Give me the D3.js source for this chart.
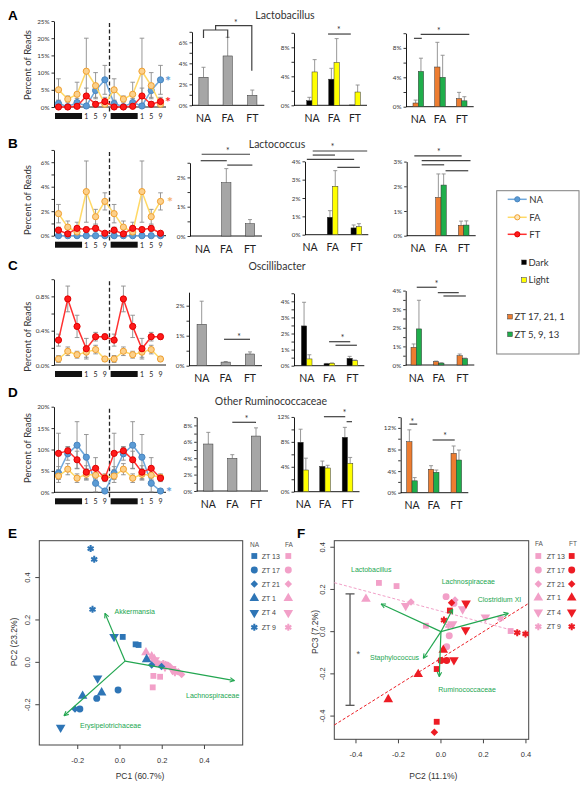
<!DOCTYPE html>
<html><head><meta charset="utf-8">
<script src="https://cdn.jsdelivr.net/npm/d3@7"></script>
<style>body{margin:0;background:#fff}svg{display:block}</style>
</head><body><script>
// ================= DATA =================
const groups = ["NA","FA","FT"];
const timeLabels = ["","","","1","5","9"];   // ZT labels under the 6 timepoints (dark phase = first 3)

// ---- line charts: % of reads at 6 timepoints (double-plotted) ----
const lactobLineNA = [1.0,0.1,1.3,0.3,4.8,7.9],   lactobLineNAErr = [1.0,0.4,1.2,0.6,2.0,4.2];
const lactobLineFA = [5.0,2.3,3.7,10.4,6.2,0.8],  lactobLineFAErr = [3.2,0.9,3.5,9.6,3.8,1.0];
const lactobLineFT = [0.0,0.0,0.2,3.2,0.8,1.6],   lactobLineFTErr = [0.2,0.2,0.4,2.3,0.8,1.2];

const lactocLineNA = [0,0,0,0,0,0],               lactocLineNAErr = [0,0,0,0,0,0];
const lactocLineFA = [1.8,0.7,0.3,3.6,1.55,2.8],  lactocLineFAErr = [0.75,0.5,0.8,2.5,0.6,0.7];
const lactocLineFT = [0.45,0.15,0.6,0.5,0.6,0.2], lactocLineFTErr = [0.25,0.15,0.2,0.2,0.25,0.15];

const oscLineFA = [0.07,0.16,0.12,0.15,0.18,0.07], oscLineFAErr = [0.04,0.05,0.04,0.06,0.05,0.03];
const oscLineFT = [0.29,0.77,0.45,0.19,0.33,0.33], oscLineFTErr = [0.07,0.15,0.13,0.12,0.05,0.03];

const rumLineNA = [4.5,9.0,11.0,8.2,2.1,0.3],  rumLineNAErr = [1.5,1.5,5.5,5.3,2.0,0.5];
const rumLineFA = [3.8,5.4,3.3,4.2,4.0,3.5],   rumLineFAErr = [1.5,1.3,1.0,1.3,1.2,0.8];
const rumLineFT = [9.1,9.7,7.6,4.7,5.6,3.3],   rumLineFTErr = [4.7,1.0,2.0,1.5,2.5,0.8];

// ---- bar charts (NA, FA, FT) ----
const lactobTotal = [2.67,4.7,0.95], lactobTotalErr = [0.95,1.78,0.5];
const lactobDark  = [0.63,3.6,0.05], lactobDarkErr  = [0.47,1.5,0];
const lactobLight = [4.6,5.9,1.83],  lactobLightErr = [1.7,3.3,0.97];
const lactobZTa   = [0.5,5.4,1.1],   lactobZTaErr   = [0.4,3.36,0.85];
const lactobZTb   = [4.8,4.0,0.8],   lactobZTbErr   = [1.8,3.0,0.56];

const lactocTotal = [0,1.82,0.42],   lactocTotalErr = [0,0.48,0.14];
const lactocDark  = [0,0.95,0.37],   lactocDarkErr  = [0,0.36,0.16];
const lactocLight = [0,2.64,0.44],   lactocLightErr = [0,0.85,0.16];
const lactocZTa   = [0,1.55,0.42],   lactocZTaErr   = [0,0.95,0.17];
const lactocZTb   = [0,2.05,0.43],   lactocZTbErr   = [0,0.45,0.17];

const oscTotal = [1.38,0.12,0.39], oscTotalErr = [0.77,0.02,0.07];
const oscDark  = [2.47,0.12,0.46], oscDarkErr  = [1.47,0.02,0.12];
const oscLight = [0.42,0.15,0.31], oscLightErr = [0.26,0.02,0.04];
const oscZTa   = [0.95,0.18,0.5],  oscZTaErr   = [0.18,0.03,0.09];
const oscZTb   = [1.94,0.1,0.34],  oscZTbErr   = [1.54,0.02,0.03];

const rumTotal = [5.73,3.98,6.7], rumTotalErr = [1.42,0.45,1.0];
const rumDark  = [7.93,4.07,8.73], rumDarkErr = [2.1,0.85,1.6];
const rumLight = [3.48,3.8,4.55],  rumLightErr = [1.9,0.44,0.95];
const rumZTa   = [9.44,4.33,7.3],  rumZTaErr   = [2.2,0.67,1.35];
const rumZTb   = [2.2,3.78,6.05],  rumZTbErr   = [0.6,0.42,1.85];

// ---- significance brackets: polylines of [category index, value %] ----
const sigLactobTotal = [[[0,6.4],[0,7.17],[1,7.17],[1,6.4]],[[0.5,7.17],[0.5,7.58],[1.98,7.58],[1.98,3.3]]];
const starLactobTotal = [[1.33,7.96]];
const sigLactobDL = [[[0.73,9.83],[1.8,9.83]]], starLactobDL = [[1.23,10.5]];
const sigLactobZT = [[[-0.2,9.3],[0.16,9.3]],[[0.11,9.85],[2.35,9.85]]], starLactobZT = [[0.94,10.4]];

const sigLactocTotal = [[[-0.04,2.79],[2.0,2.79]],[[-0.08,2.57],[1.02,2.57]],[[1.04,2.42],[2.1,2.42]]], starLactocTotal = [[1.06,2.94]];
const sigLactocDL = [[[0.12,4.56],[2.46,4.56]],[[0.12,4.34],[1.1,4.34]],[[-0.14,4.11],[1.91,4.11]],[[1.2,3.67],[2.15,3.67]]], starLactocDL = [[1.0,4.8]];
const sigLactocZT = [[[-0.16,3.23],[1.91,3.23]],[[0.16,3.04],[2.3,3.04]],[[0.16,2.87],[1.14,2.87]],[[1.2,2.63],[2.2,2.63]]], starLactocZT = [[0.9,3.43]];

const sigOscTotal = [[[0.93,0.88],[2.0,0.88]]], starOscTotal = [[1.55,1.0]];
const sigOscDL = [[[0.99,1.49],[1.91,1.49]],[[1.27,1.27],[2.2,1.27]]], starOscDL = [[1.58,1.76]];
const sigOscZT = [[[0.02,4.18],[0.91,4.18]],[[0.96,3.89],[1.85,3.89]],[[1.2,3.71],[2.15,3.71]]], starOscZT = [[0.91,4.39]];

const sigRumTotal = [[[1,8.38],[2,8.38]]], starRumTotal = [[1.6,8.87]];
const sigRumDL = [[[0.95,12.04],[1.9,12.04]],[[1.96,11.24],[2.2,11.24]]], starRumDL = [[1.87,12.7]];
const sigRumZT = [[[-0.12,12.7],[0.24,12.7]],[[0.95,9.76],[1.93,9.76]]], starRumZT = [[0.01,13.3],[1.5,10.7]];

// ---- PCA (E): PC1 / PC2 ----
const eNAzt  = ["ZT 9","ZT 9","ZT 9","ZT 13","ZT 13","ZT 13","ZT 4","ZT 4","ZT 4","ZT 1","ZT 1","ZT 1","ZT 17","ZT 17","ZT 17","ZT 21","ZT 21","ZT 21"];
const eNApc1 = [-0.139,-0.122,-0.130,0.013,0.074,0.088,-0.028,-0.106,-0.281,0.126,-0.087,-0.177,-0.009,-0.11,-0.19,-0.213,0.15,0.197];
const eNApc2 = [0.537,0.486,0.25,0.12,0.085,0.082,0.121,-0.075,-0.307,0.014,-0.143,-0.159,-0.13,-0.17,-0.22,-0.22,-0.013,-0.02];
const eFAzt  = ["ZT 1","ZT 1","ZT 1","ZT 13","ZT 13","ZT 13","ZT 17","ZT 17","ZT 17","ZT 21","ZT 21","ZT 21","ZT 9","ZT 9","ZT 9","ZT 4","ZT 4","ZT 4"];
const eFApc1 = [0.123,0.15,0.162,0.158,0.19,0.155,0.174,0.221,0.253,0.237,0.276,0.292,0.186,0.205,0.26,0.166,0.213,0.245];
const eFApc2 = [0.046,0.027,0.015,-0.064,-0.068,-0.118,-0.005,-0.013,-0.036,-0.02,-0.044,-0.057,-0.008,-0.005,-0.049,0.011,-0.02,-0.03];
const eLoadNames = ["Akkermansia","Lachnospiraceae","Erysipelotrichaceae"];
const eLoadPC1 = [-0.071,0.542,-0.265], eLoadPC2 = [0.231,-0.086,-0.252];
const eOrigin = [0.024,0.006];

// ---- PCA (F): PC2 / PC3 ----
const fFAzt  = ["ZT 13","ZT 13","ZT 13","ZT 13","ZT 1","ZT 4","ZT 4","ZT 4","ZT 4","ZT 21","ZT 21","ZT 17","ZT 17","ZT 17","ZT 17","ZT 9","ZT 9"];
const fFApc2 = [-0.292,-0.209,-0.071,0.328,-0.353,-0.166,0.055,0.102,0.209,-0.141,0.066,0.024,0.061,0.039,0.027,0.281,0.035];
const fFApc3 = [0.231,0.216,0.028,0.003,0.155,0.123,0.036,0.107,0.068,0.141,0.15,0.166,0.134,-0.019,-0.071,0.063,0.028];
const fFTzt  = ["ZT 13","ZT 13","ZT 13","ZT 21","ZT 21","ZT 4","ZT 4","ZT 4","ZT 1","ZT 1","ZT 1","ZT 17","ZT 17","ZT 9","ZT 9","ZT 9"];
const fFTpc2 = [0.042,-0.02,-0.02,0.05,-0.031,0.118,0.116,0.061,-0.107,-0.248,0.011,0.027,0.0,0.014,0.359,0.398];
const fFTpc3 = [0.1,-0.177,-0.427,0.137,-0.477,0.134,0.008,-0.134,-0.202,-0.321,-0.087,-0.137,-0.137,0.055,-0.005,-0.011];
const fLoadNames = ["Lactobacillus","Staphylococcus","Ruminococcaceae","Lachnospiraceae","Clostridium XI"];
const fLoadPC2 = [-0.282,-0.083,-0.008,0.055,0.317], fLoadPC3 = [0.131,-0.126,-0.213,0.106,0.087];
const fFitFA = {slope:-0.269, intercept:0.097, from:-0.502, to:0.39};
const fFitFT = {slope:0.63, intercept:-0.126, from:-0.502, to:0.413};
const fErrBar = {pc2:-0.428, lo:-0.349, hi:0.179};
const ztOrder = ["ZT 13","ZT 17","ZT 21","ZT 1","ZT 4","ZT 9"];

// ================= DRAWING =================
const W = 588, H = 791;
const svg = d3.select("body").append("svg").attr("width",W).attr("height",H)
  .style("font-family","Lato, 'Open Sans', sans-serif");

const cNA="#5b9bd5", cNAline="#6fa8dc", cFAline="#ffd966", cFAfill="#fcd08a", cFAstroke="#f0a030",
      cFT="#ff1a1a", cGrey="#a6a6a6", cOrange="#ed7d31", cGreen="#1fae4b", cYellow="#ffff00",
      cErr="#8c8c8c", cBlueE="#2e75b6", cPink="#f2a0c8", cRedF="#ed1c24", cArrow="#22a650";

function styleAxis(a){
  a.selectAll("path.domain").attr("stroke","#000").attr("stroke-width",0.9);
  a.selectAll(".tick line").attr("stroke","#000").attr("stroke-width",0.8);
  a.selectAll(".tick text").attr("font-size",6.3).attr("fill","#333").attr("font-family","Lato, sans-serif");
}
const has = (arr,d)=>arr.some(l=>Math.abs(l-d)<1e-9);

function drawLineChart(cfg){
  const x = d3.scaleLinear().domain([0,11]).range([58.5,160.5]);
  const y = d3.scaleLinear().domain([0,cfg.max]).range([cfg.y0, cfg.y0-cfg.max*cfg.px]);
  const g = svg.append("g");
  const ax = g.append("g").attr("transform","translate(54,0)")
    .call(d3.axisLeft(y).tickValues(cfg.ticks).tickSize(2.5).tickSizeOuter(0).tickPadding(2)
      .tickFormat(d=>has(cfg.labels,d)?cfg.fmt(d):""));
  styleAxis(ax);
  g.append("line").attr("x1",54).attr("x2",166).attr("y1",cfg.y0).attr("y2",cfg.y0).attr("stroke","#000").attr("stroke-width",0.9);
  const xm=(x(5)+x(6))/2;
  g.append("line").attr("x1",xm).attr("x2",xm).attr("y1",y(cfg.max)+2).attr("y2",cfg.y0+6)
    .attr("stroke","#222").attr("stroke-width",1.3).attr("stroke-dasharray","4,2.5");
  [0,6].forEach(s=>{
    g.append("rect").attr("x",x(s)-3.5).attr("y",cfg.y0+6).attr("width",x(s+2)-x(s)+8.5).attr("height",6).attr("fill","#111");
    timeLabels.forEach((t,i)=>{ if(t) g.append("text").attr("x",x(s+i)).attr("y",cfg.y0+11.8)
      .attr("text-anchor","middle").attr("font-size",7).attr("fill","#222").text(t); });
  });
  g.append("text").attr("transform",`translate(31,${cfg.labelY}) rotate(-90)`).attr("text-anchor","middle")
    .attr("font-size",9.5).attr("fill","#333").text("Percent of Reads");
  const idx = d3.range(12);
  cfg.series.forEach(s=>{
    idx.forEach(i=>{
      const v=s.vals[i%6], e=s.errs[i%6]; if(e<=0) return;
      const lo=Math.max(0,v-e), hi=v+e;
      g.append("line").attr("x1",x(i)).attr("x2",x(i)).attr("y1",y(lo)).attr("y2",y(hi)).attr("stroke",cErr).attr("stroke-width",0.9);
      [lo,hi].forEach(b=>{ if(b>0) g.append("line").attr("x1",x(i)-2.3).attr("x2",x(i)+2.3).attr("y1",y(b)).attr("y2",y(b)).attr("stroke",cErr).attr("stroke-width",0.9);});
    });
  });
  cfg.series.forEach(s=>{
    g.append("path").datum(idx).attr("fill","none").attr("stroke",s.line).attr("stroke-width",1.5)
      .attr("d",d3.line().x(i=>x(i)).y(i=>y(s.vals[i%6])));
    g.selectAll(null).data(idx).join("circle").attr("cx",i=>x(i)).attr("cy",i=>y(s.vals[i%6])).attr("r",3.1)
      .attr("fill",s.fill).attr("stroke",s.stroke).attr("stroke-width",1);
  });
  (cfg.stars||[]).forEach(st=>{
    g.append("text").attr("x",st.x).attr("y",y(st.v)+6).attr("text-anchor","middle").attr("font-size",14)
      .attr("font-weight","bold").attr("fill",st.color).text("*");
  });
}
const serNA=(v,e)=>({vals:v,errs:e,line:cNAline,fill:cNA,stroke:"#4a86c0"});
const serFA=(v,e)=>({vals:v,errs:e,line:cFAline,fill:cFAfill,stroke:cFAstroke});
const serFT=(v,e)=>({vals:v,errs:e,line:"#ff3030",fill:cFT,stroke:"#e00000"});

function drawBarChart(cfg){
  const y = d3.scaleLinear().domain([0,cfg.max]).range([cfg.y0, cfg.y0-cfg.max*cfg.px]);
  const cx = d3.scaleLinear().domain([0,1,2]).range(cfg.cats);
  const g = svg.append("g");
  const ax = g.append("g").attr("transform",`translate(${cfg.x0},0)`)
    .call(d3.axisLeft(y).tickValues(cfg.ticks).tickSize(2.5).tickSizeOuter(0).tickPadding(2)
      .tickFormat(d=>has(cfg.labels,d)?d+"%":""));
  styleAxis(ax);
  g.append("line").attr("x1",cfg.x0).attr("x2",cfg.cats[2]+12).attr("y1",cfg.y0).attr("y2",cfg.y0).attr("stroke","#000").attr("stroke-width",0.9);
  const n=cfg.series.length, bw = n===1?9.3:5.3;
  cfg.series.forEach((s,si)=>{
    groups.forEach((grp,i)=>{
      const v=s.vals[i], e=s.errs[i];
      const bx = n===1? cx(i)-bw/2 : cx(i)-bw+si*bw;
      if(e>0){
        g.append("line").attr("x1",bx+bw/2).attr("x2",bx+bw/2).attr("y1",y(v)).attr("y2",y(v+e)).attr("stroke",cErr).attr("stroke-width",0.9);
        g.append("line").attr("x1",bx+bw/2-2).attr("x2",bx+bw/2+2).attr("y1",y(v+e)).attr("y2",y(v+e)).attr("stroke",cErr).attr("stroke-width",0.9);
      }
      if(v>0) g.append("rect").attr("x",bx).attr("y",y(v)).attr("width",bw).attr("height",cfg.y0-y(v))
        .attr("fill",s.color).attr("stroke","#333").attr("stroke-width",0.5);
    });
  });
  groups.forEach((grp,i)=>g.append("text").attr("x",cx(i)).attr("y",cfg.y0+16.5).attr("text-anchor","middle")
    .attr("font-size",10.5).attr("fill","#222").text(grp));
  cfg.sig.forEach(pl=>g.append("path").attr("fill","none").attr("stroke","#404040").attr("stroke-width",1.2)
    .attr("d",d3.line().x(p=>cx(p[0])).y(p=>y(p[1]))(pl)));
  cfg.stars.forEach(p=>g.append("text").attr("x",cx(p[0])).attr("y",y(p[1])+3.8).attr("text-anchor","middle")
    .attr("font-size",8.5).attr("fill","#333").text("*"));
}
const sGrey=(v,e)=>[{vals:v,errs:e,color:cGrey}];
const sDL=(a,ae,b,be)=>[{vals:a,errs:ae,color:"#000"},{vals:b,errs:be,color:cYellow}];
const sZT=(a,ae,b,be)=>[{vals:a,errs:ae,color:cOrange},{vals:b,errs:be,color:cGreen}];
const range=(a,b,s)=>d3.range(a,b+s/2,s);

// Panel letters and titles
[["A",8,20],["B",8,148],["C",8,270],["D",8,397],["E",8,538],["F",297,538]].forEach(([t,xx,yy])=>svg.append("text").attr("x",xx).attr("y",yy)
  .attr("font-family","'Liberation Sans', Arial, sans-serif").attr("font-weight","bold").attr("font-size",13.5).text(t));
[["Lactobacillus",285,18.5],["Lactococcus",277,148],["Oscillibacter",277,270],["Other Ruminococcaceae",271,405]]
  .forEach(([t,xx,yy])=>svg.append("text").attr("x",xx).attr("y",yy).attr("text-anchor","middle").attr("font-size",10.5).attr("fill","#333").text(t));

// Row A
drawLineChart({y0:107,px:3.44,max:25,ticks:range(0,25,5),labels:range(0,25,5),fmt:d=>d+"%",labelY:65,
  series:[serNA(lactobLineNA,lactobLineNAErr),serFA(lactobLineFA,lactobLineFAErr),serFT(lactobLineFT,lactobLineFTErr)],
  stars:[{x:168,v:lactobLineNA[5],color:cNA},{x:168,v:lactobLineFT[5],color:cFT}]});
drawBarChart({x0:192,cats:[203.5,227.7,252.3],y0:105.3,px:10.5,max:7,ticks:range(0,7,1),labels:[0,2,4,6],
  series:sGrey(lactobTotal,lactobTotalErr),sig:sigLactobTotal,stars:starLactobTotal});
drawBarChart({x0:294,cats:[312,334,355],y0:105.3,px:7.25,max:10,ticks:range(0,10,2),labels:[0,4,8],
  series:sDL(lactobDark,lactobDarkErr,lactobLight,lactobLightErr),sig:sigLactobDL,stars:starLactobDL});
drawBarChart({x0:406,cats:[418.3,440,461.7],y0:106.7,px:7.35,max:10,ticks:range(0,10,2),labels:[0,4,8],
  series:sZT(lactobZTa,lactobZTaErr,lactobZTb,lactobZTbErr),sig:sigLactobZT,stars:starLactobZT});

// Row B
drawLineChart({y0:235.7,px:12.25,max:7,ticks:range(0,7,1),labels:[0,2,4,6],fmt:d=>d+"%",labelY:200,
  series:[serNA(lactocLineNA,lactocLineNAErr),serFA(lactocLineFA,lactocLineFAErr),serFT(lactocLineFT,lactocLineFTErr)],
  stars:[{x:170,v:lactocLineFA[5],color:"#f6b26b"}]});
drawBarChart({x0:190,cats:[202.6,226.3,250],y0:236,px:29.3,max:2.5,ticks:range(0,2.5,0.5),labels:[0,1,2],
  series:sGrey(lactocTotal,lactocTotalErr),sig:sigLactocTotal,stars:starLactocTotal});
drawBarChart({x0:305,cats:[310,332.6,356.3],y0:234.7,px:18.35,max:4,ticks:range(0,4,1),labels:[0,1,2,3,4],
  series:sDL(lactocDark,lactocDarkErr,lactocLight,lactocLightErr),sig:sigLactocDL,stars:starLactocDL});
drawBarChart({x0:406.7,cats:[418,441,463.7],y0:235.7,px:24.7,max:3,ticks:range(0,3,1),labels:[0,1,2,3],
  series:sZT(lactocZTa,lactocZTaErr,lactocZTb,lactocZTbErr),sig:sigLactocZT,stars:starLactocZT});

// Row C
drawLineChart({y0:365,px:85.8,max:1.0,ticks:range(0,1.0,0.2),labels:[0,0.4,0.8],fmt:d=>d.toFixed(1)+"%",labelY:336.7,
  series:[serFA(oscLineFA,oscLineFAErr),serFT(oscLineFT,oscLineFTErr)]});
drawBarChart({x0:189,cats:[201.7,225.7,250],y0:365.7,px:30,max:2.45,ticks:range(0,2,0.5),labels:[0,1,2],
  series:sGrey(oscTotal,oscTotalErr),sig:sigOscTotal,stars:starOscTotal});
drawBarChart({x0:294,cats:[306.7,329.3,352.3],y0:365.7,px:16.1,max:4.5,ticks:range(0,4.5,0.5),labels:[0,1,2,3,4],
  series:sDL(oscDark,oscDarkErr,oscLight,oscLightErr),sig:sigOscDL,stars:starOscDL});
drawBarChart({x0:405.7,cats:[416.3,438.7,462.3],y0:365,px:18.6,max:4,ticks:range(0,4,0.5),labels:[0,1,2,3,4],
  series:sZT(oscZTa,oscZTaErr,oscZTb,oscZTbErr),sig:sigOscZT,stars:starOscZT});

// Row D
drawLineChart({y0:492.3,px:4.28,max:20,ticks:range(0,20,5),labels:range(0,20,5),fmt:d=>d+"%",labelY:448,
  series:[serNA(rumLineNA,rumLineNAErr),serFA(rumLineFA,rumLineFAErr),serFT(rumLineFT,rumLineFTErr)],
  stars:[{x:169,v:rumLineNA[5],color:cNA}]});
drawBarChart({x0:196.7,cats:[208.3,232.3,256],y0:491,px:8.2,max:9,ticks:range(0,9,1),labels:[0,2,4,6,8],
  series:sGrey(rumTotal,rumTotalErr),sig:sigRumTotal,stars:starRumTotal});
drawBarChart({x0:294,cats:[303.2,325,347.5],y0:491.7,px:6.23,max:12,ticks:range(0,12,2),labels:[0,4,8,12],
  series:sDL(rumDark,rumDarkErr,rumLight,rumLightErr),sig:sigRumDL,stars:starRumDL});
drawBarChart({x0:400.7,cats:[412,433.7,456.3],y0:492.7,px:5.4,max:14,ticks:range(0,14,2),labels:[0,4,8,12],
  series:sZT(rumZTa,rumZTaErr,rumZTb,rumZTbErr),sig:sigRumZT,stars:starRumZT});

// Legend box (rows A-D)
(function(){
  const g=svg.append("g");
  g.append("rect").attr("x",496.7).attr("y",190.7).attr("width",82.3).attr("height",163.3).attr("fill","none").attr("stroke","#7f7f7f").attr("stroke-width",1);
  [["NA",199.3,cNAline,cNA,"#4a86c0"],["FA",217.3,cFAline,"#fde7bd",cFAstroke],["FT",234.3,"#ff3030",cFT,"#e00000"]].forEach(([t,yy,lc,fc,sc])=>{
    g.append("line").attr("x1",507.7).attr("x2",526.7).attr("y1",yy).attr("y2",yy).attr("stroke",lc).attr("stroke-width",1.5);
    g.append("circle").attr("cx",517.3).attr("cy",yy).attr("r",2.6).attr("fill",fc).attr("stroke",sc).attr("stroke-width",1);
    g.append("text").attr("x",529.3).attr("y",yy+3.4).attr("font-size",9.5).attr("fill","#333").text(t);
  });
  [["Dark",262.3,"#000",524],["Light",280,cYellow,524],["ZT 17, 21, 1",316.7,cOrange,510],["ZT 5, 9, 13",334.3,cGreen,510]].forEach(([t,yy,c,xx])=>{
    g.append("rect").attr("x",xx-2.3).attr("y",yy-2.3).attr("width",4.6).attr("height",4.6).attr("fill",c).attr("stroke","#333").attr("stroke-width",0.5);
    g.append("text").attr("x",xx+4.5).attr("y",yy+3.4).attr("font-size",9.5).attr("fill","#333").text(t);
  });
})();

// ---------- PCA panels ----------
function marker(g,px,py,zt,color){
  let sym, rot="";
  if(zt==="ZT 13") sym=d3.symbol(d3.symbolSquare,34);
  else if(zt==="ZT 17") sym=d3.symbol(d3.symbolCircle,38);
  else if(zt==="ZT 21"){ sym=d3.symbol(d3.symbolSquare,28); rot=" rotate(45)"; }
  else if(zt==="ZT 1") sym=d3.symbol(d3.symbolTriangle,40);
  else if(zt==="ZT 4"){ sym=d3.symbol(d3.symbolTriangle,40); rot=" rotate(180)"; }
  else sym=d3.symbol(d3.symbolAsterisk,34);
  const p=g.append("path").attr("d",sym()).attr("transform",`translate(${px},${py})${rot}`);
  if(zt==="ZT 9") p.attr("fill","none").attr("stroke",color).attr("stroke-width",2);
  else p.attr("fill",color);
}
function arrow(g,x1,y1,x2,y2){
  g.append("line").attr("x1",x1).attr("y1",y1).attr("x2",x2).attr("y2",y2).attr("stroke",cArrow).attr("stroke-width",1.2);
  const a=Math.atan2(y2-y1,x2-x1), L=5;
  [0.45,-0.45].forEach(d=>g.append("line").attr("x1",x2).attr("y1",y2)
    .attr("x2",x2-L*Math.cos(a+d)).attr("y2",y2-L*Math.sin(a+d)).attr("stroke",cArrow).attr("stroke-width",1.1));
}
function pcaFrame(cfg){
  const x=d3.scaleLinear().domain(cfg.xd).range([cfg.L,cfg.R]);
  const y=d3.scaleLinear().domain(cfg.yd).range([cfg.B,cfg.T]);
  const g=svg.append("g").style("font-family","'Liberation Sans', Arial, sans-serif");
  g.append("rect").attr("x",cfg.L).attr("y",cfg.T).attr("width",cfg.R-cfg.L).attr("height",cfg.B-cfg.T).attr("fill","none").attr("stroke","#444").attr("stroke-width",1);
  cfg.xt.forEach(t=>{
    g.append("line").attr("x1",x(t)).attr("x2",x(t)).attr("y1",cfg.B).attr("y2",cfg.B+4).attr("stroke","#444");
    g.append("text").attr("x",x(t)).attr("y",cfg.B+18).attr("text-anchor","middle").attr("font-size",7.5).attr("fill","#333").text(t.toFixed(1));
  });
  cfg.yt.forEach(t=>{
    g.append("line").attr("x1",cfg.L-4).attr("x2",cfg.L).attr("y1",y(t)).attr("y2",y(t)).attr("stroke","#444");
    g.append("text").attr("transform",`translate(${cfg.L-9},${y(t)}) rotate(-90)`).attr("text-anchor","middle").attr("font-size",7.5).attr("fill","#333").text(t.toFixed(1));
  });
  g.append("text").attr("x",cfg.xlab[1]).attr("y",779).attr("text-anchor","middle").attr("font-size",8.5).attr("fill","#333").text(cfg.xlab[0]);
  g.append("text").attr("transform",`translate(${cfg.ylab[1]},${cfg.ylab[2]}) rotate(-90)`).attr("text-anchor","middle").attr("font-size",8.5).attr("fill","#333").text(cfg.ylab[0]);
  return {x,y,g};
}

// Panel E
(function(){
  const {x,y,g}=pcaFrame({xd:[-0.382,0.581],yd:[-0.39,0.574],L:39.3,R:242.7,T:540.7,B:745,
    xt:[-0.2,0,0.2,0.4],yt:[-0.2,0,0.2,0.4],xlab:["PC1 (60.7%)",140],ylab:["PC2 (23.2%)",17,642]});
  eFAzt.forEach((z,i)=>marker(g,x(eFApc1[i]),y(eFApc2[i]),z,cPink));
  eNAzt.forEach((z,i)=>marker(g,x(eNApc1[i]),y(eNApc2[i]),z,cBlueE));
  eLoadNames.forEach((n,i)=>arrow(g,x(eOrigin[0]),y(eOrigin[1]),x(eLoadPC1[i]),y(eLoadPC2[i])));
  [["Akkermansia",114.5,613.5],["Lachnospiraceae",186,698],["Erysipelotrichaceae",80,728]].forEach(([t,xx,yy])=>
    g.append("text").attr("x",xx).attr("y",yy).attr("font-size",7).attr("fill",cArrow).text(t));
  g.append("text").attr("x",250).attr("y",547).attr("font-size",6.5).attr("fill","#555").text("NA");
  g.append("text").attr("x",285).attr("y",547).attr("font-size",6.5).attr("fill","#555").text("FA");
  const ly=[556,570,584,598.3,612.7,627.3];
  ztOrder.forEach((z,i)=>{
    marker(g,254.3,ly[i],z,cBlueE); marker(g,288.3,ly[i],z,cPink);
    g.append("text").attr("x",261.7).attr("y",ly[i]+2.6).attr("font-size",7).attr("fill","#444").text(z);
  });
})();

// Panel F
(function(){
  const {x,y,g}=pcaFrame({xd:[-0.502,0.413],yd:[-0.51,0.431],L:334.3,R:528.7,T:540.7,B:739.3,
    xt:[-0.4,-0.2,0,0.2,0.4],yt:[-0.4,-0.2,0,0.2,0.4],xlab:["PC2 (11.1%)",433.3],ylab:["PC3 (7.2%)",318,632]});
  const fitLine=(f,c)=>g.append("line").attr("x1",x(f.from)).attr("y1",y(f.intercept+f.slope*f.from))
    .attr("x2",x(f.to)).attr("y2",y(f.intercept+f.slope*f.to)).attr("stroke",c).attr("stroke-width",1).attr("stroke-dasharray","3,2");
  fitLine(fFitFA,cPink); fitLine(fFitFT,cRedF);
  const ex=x(fErrBar.pc2);
  g.append("line").attr("x1",ex).attr("x2",ex).attr("y1",y(fErrBar.hi)).attr("y2",y(fErrBar.lo)).attr("stroke","#555").attr("stroke-width",1.3);
  [fErrBar.hi,fErrBar.lo].forEach(v=>g.append("line").attr("x1",ex-4.5).attr("x2",ex+4.5).attr("y1",y(v)).attr("y2",y(v)).attr("stroke","#555").attr("stroke-width",1.3));
  g.append("text").attr("x",ex+6.5).attr("y",y(-0.098)+4.5).attr("font-size",9).attr("fill","#555").text("*");
  fFAzt.forEach((z,i)=>marker(g,x(fFApc2[i]),y(fFApc3[i]),z,cPink));
  fFTzt.forEach((z,i)=>marker(g,x(fFTpc2[i]),y(fFTpc3[i]),z,cRedF));
  fLoadNames.forEach((n,i)=>arrow(g,x(0),y(0),x(fLoadPC2[i]),y(fLoadPC3[i])));
  [["Lactobacillus",351,571.7],["Lachnospiraceae",441.7,584.3],["Clostridium XI",477.7,601.7],["Staphylococcus",370,660],["Ruminococcaceae",438.3,692.3]]
    .forEach(([t,xx,yy])=>g.append("text").attr("x",xx).attr("y",yy).attr("font-size",7).attr("fill",cArrow).text(t));
  g.append("text").attr("x",535).attr("y",546).attr("font-size",6.5).attr("fill","#555").text("FA");
  g.append("text").attr("x",569).attr("y",546).attr("font-size",6.5).attr("fill","#555").text("FT");
  const ly=[556,570,584,597.7,612.3,626.7];
  ztOrder.forEach((z,i)=>{
    marker(g,538.3,ly[i],z,cPink); marker(g,571.7,ly[i],z,cRedF);
    g.append("text").attr("x",546.7).attr("y",ly[i]+2.6).attr("font-size",7).attr("fill","#444").text(z);
  });
})();
</script></body></html>
